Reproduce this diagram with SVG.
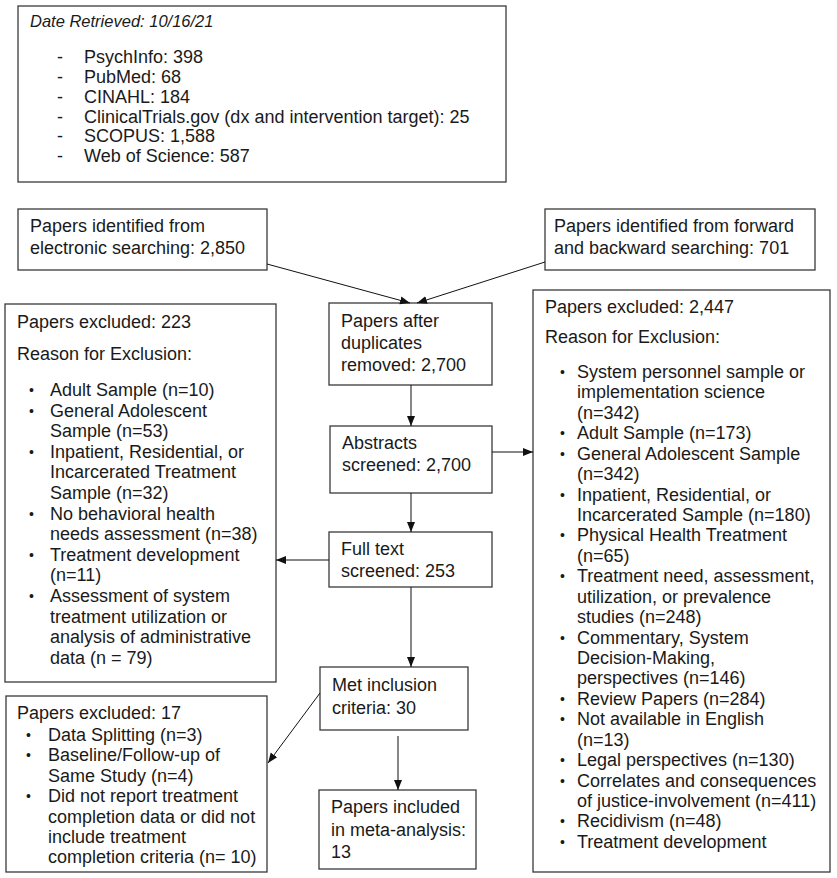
<svg xmlns="http://www.w3.org/2000/svg" width="837" height="878" viewBox="0 0 837 878">
<defs>
<marker id="ah" markerUnits="userSpaceOnUse" markerWidth="10" markerHeight="10" viewBox="0 0 10 10" refX="10" refY="5" orient="auto">
<path d="M0,1 L10,5 L0,9 Z" fill="#111"/>
</marker>
<style>
.box{fill:#fff;stroke:#3a3a3a;stroke-width:1.3}
text{font-family:"Liberation Sans",Arial,sans-serif;font-size:18px;fill:#1a1a1a}
.it{font-style:italic;font-size:16.5px}
.b{font-size:14px}
.con line{stroke:#111;stroke-width:1;marker-end:url(#ah)}
</style>
</defs>
<rect width="837" height="878" fill="#fff"/>

<g id="sources">
<rect class="box" x="18" y="6" width="488" height="176"/>
<text class="it" x="30" y="27">Date Retrieved: 10/16/21</text>
<text x="57" y="63">-</text><text x="84" y="63">PsychInfo: 398</text>
<text x="57" y="83">-</text><text x="84" y="83">PubMed: 68</text>
<text x="57" y="103">-</text><text x="84" y="103">CINAHL: 184</text>
<text x="57" y="123">-</text><text x="84" y="123">ClinicalTrials.gov (dx and intervention target): 25</text>
<text x="57" y="142">-</text><text x="84" y="142">SCOPUS: 1,588</text>
<text x="57" y="162">-</text><text x="84" y="162">Web of Science: 587</text>
</g>

<g id="electronic">
<rect class="box" x="18" y="209" width="249" height="61"/>
<text x="30" y="232">Papers identified from</text>
<text x="30" y="254">electronic searching: 2,850</text>
</g>

<g id="forward">
<rect class="box" x="545" y="209" width="270" height="61"/>
<text x="554" y="232">Papers identified from forward</text>
<text x="554" y="254">and backward searching: 701</text>
</g>

<g id="duplicates">
<rect class="box" x="329" y="303" width="163" height="82"/>
<text x="341" y="327">Papers after</text>
<text x="341" y="349">duplicates</text>
<text x="341" y="371">removed: 2,700</text>
</g>

<g id="abstracts">
<rect class="box" x="330" y="426" width="162" height="67"/>
<text x="342" y="449">Abstracts</text>
<text x="342" y="471">screened: 2,700</text>
</g>

<g id="fulltext">
<rect class="box" x="329" y="532" width="163" height="55"/>
<text x="341" y="555">Full text</text>
<text x="341" y="577">screened: 253</text>
</g>

<g id="met">
<rect class="box" x="320" y="667" width="148" height="63"/>
<text x="332" y="691">Met inclusion</text>
<text x="332" y="714">criteria: 30</text>
</g>

<g id="included">
<rect class="box" x="319" y="790" width="157" height="79"/>
<text x="331" y="813">Papers included</text>
<text x="331" y="836">in meta-analysis:</text>
<text x="331" y="858">13</text>
</g>

<g id="excluded223">
<rect class="box" x="5" y="304" width="271" height="378"/>
<text x="17" y="328">Papers excluded: 223</text>
<text x="17" y="360">Reason for Exclusion:</text>
<text class="b" x="29" y="395">•</text><text x="50" y="396">Adult Sample (n=10)</text>
<text class="b" x="29" y="415.6">•</text><text x="50" y="416.6">General Adolescent</text>
<text x="50" y="437.2">Sample (n=53)</text>
<text class="b" x="29" y="456.8">•</text><text x="50" y="457.8">Inpatient, Residential, or</text>
<text x="50" y="478.4">Incarcerated Treatment</text>
<text x="50" y="499">Sample (n=32)</text>
<text class="b" x="29" y="518.6">•</text><text x="50" y="519.6">No behavioral health</text>
<text x="50" y="540.2">needs assessment (n=38)</text>
<text class="b" x="29" y="559.8">•</text><text x="50" y="560.8">Treatment development</text>
<text x="50" y="581.4">(n=11)</text>
<text class="b" x="29" y="601">•</text><text x="50" y="602">Assessment of system</text>
<text x="50" y="622.6">treatment utilization or</text>
<text x="50" y="643.2">analysis of administrative</text>
<text x="50" y="663.8">data (n = 79)</text>
</g>

<g id="excluded17">
<rect class="box" x="6" y="696" width="261" height="176"/>
<text x="17" y="719">Papers excluded: 17</text>
<text class="b" x="26" y="740">•</text><text x="48" y="741">Data Splitting (n=3)</text>
<text class="b" x="26" y="760.4">•</text><text x="48" y="761.4">Baseline/Follow-up of</text>
<text x="48" y="781.8">Same Study (n=4)</text>
<text class="b" x="26" y="801.2">•</text><text x="48" y="802.2">Did not report treatment</text>
<text x="48" y="822.6">completion data or did not</text>
<text x="48" y="843">include treatment</text>
<text x="48" y="863.4">completion criteria (n= 10)</text>
</g>

<g id="excluded2447">
<rect class="box" x="533" y="290" width="297" height="582"/>
<text x="545" y="313">Papers excluded: 2,447</text>
<text x="545" y="343">Reason for Exclusion:</text>
<text class="b" x="560" y="377">•</text><text x="577" y="378">System personnel sample or</text>
<text x="577" y="398.4">implementation science</text>
<text x="577" y="418.9">(n=342)</text>
<text class="b" x="560" y="438.3">•</text><text x="577" y="439.3">Adult Sample (n=173)</text>
<text class="b" x="560" y="458.7">•</text><text x="577" y="459.7">General Adolescent Sample</text>
<text x="577" y="480.2">(n=342)</text>
<text class="b" x="560" y="499.6">•</text><text x="577" y="500.6">Inpatient, Residential, or</text>
<text x="577" y="521">Incarcerated Sample (n=180)</text>
<text class="b" x="560" y="540.4">•</text><text x="577" y="541.4">Physical Health Treatment</text>
<text x="577" y="561.9">(n=65)</text>
<text class="b" x="560" y="581.3">•</text><text x="577" y="582.3">Treatment need, assessment,</text>
<text x="577" y="602.7">utilization, or prevalence</text>
<text x="577" y="623.2">studies (n=248)</text>
<text class="b" x="560" y="642.6">•</text><text x="577" y="643.6">Commentary, System</text>
<text x="577" y="664">Decision-Making,</text>
<text x="577" y="684.4">perspectives (n=146)</text>
<text class="b" x="560" y="703.9">•</text><text x="577" y="704.9">Review Papers (n=284)</text>
<text class="b" x="560" y="724.3">•</text><text x="577" y="725.3">Not available in English</text>
<text x="577" y="745.7">(n=13)</text>
<text class="b" x="560" y="765.2">•</text><text x="577" y="766.2">Legal perspectives (n=130)</text>
<text class="b" x="560" y="785.6">•</text><text x="577" y="786.6">Correlates and consequences</text>
<text x="577" y="807">of justice-involvement (n=411)</text>
<text class="b" x="560" y="826.4">•</text><text x="577" y="827.4">Recidivism (n=48)</text>
<text class="b" x="560" y="846.9">•</text><text x="577" y="847.9">Treatment development</text>
</g>

<g id="connectors" class="con">
<line x1="267" y1="264" x2="410" y2="303"/>
<line x1="545" y1="262" x2="417" y2="303"/>
<line x1="411" y1="385" x2="411" y2="426"/>
<line x1="492" y1="452" x2="533" y2="452"/>
<line x1="411" y1="493" x2="411" y2="532"/>
<line x1="329" y1="560" x2="276" y2="560"/>
<line x1="411" y1="587" x2="411" y2="667"/>
<line x1="398" y1="736" x2="398" y2="790"/>
<line x1="320" y1="693" x2="268" y2="763"/>
</g>
</svg>
